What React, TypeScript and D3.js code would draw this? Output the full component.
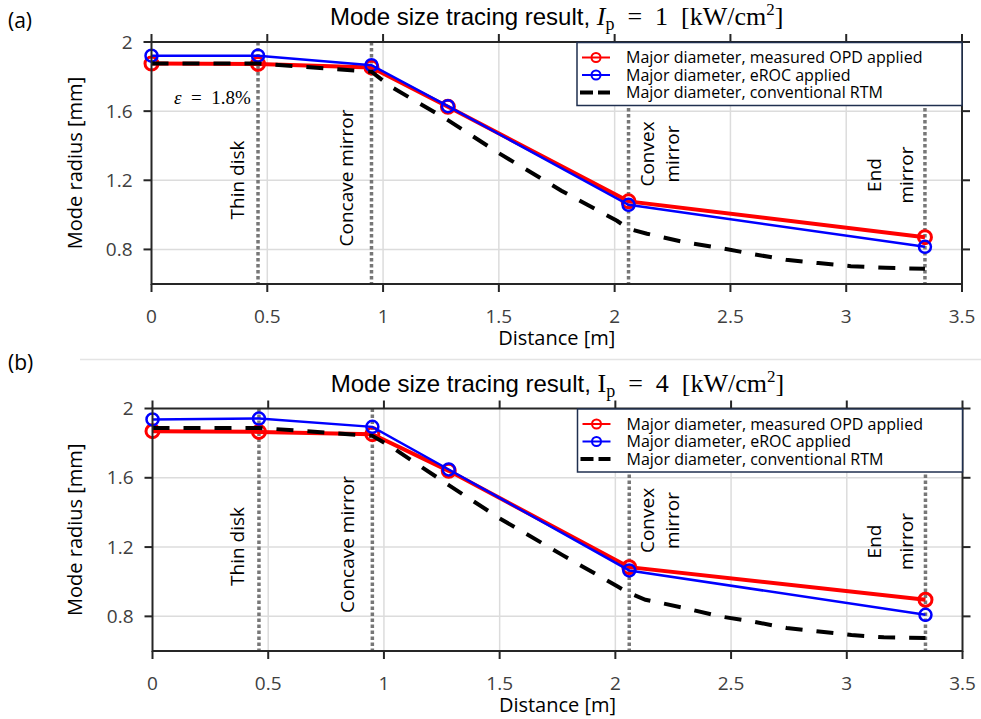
import React from 'react';
import * as d3 from 'd3';

// positions of the optical elements along the resonator [m]
const stations = [0, 0.46, 0.95, 1.28, 2.06, 3.34];

// panel (a), Ip = 1 kW/cm^2
const measuredA = [1.875, 1.873, 1.853, 1.625, 1.078, 0.871];
const erocA = [1.921, 1.921, 1.866, 1.629, 1.058, 0.815];
const rtmDistA = [0, 0.46, 0.95, 1.03, 1.28, 1.5, 1.77, 2.01, 2.06, 2.14, 2.3, 2.45, 2.59, 2.74, 2.88, 3.02, 3.17, 3.34];
const rtmA = [1.876, 1.875, 1.828, 1.745, 1.548, 1.357, 1.14, 0.966, 0.92, 0.891, 0.842, 0.81, 0.775, 0.74, 0.721, 0.703, 0.694, 0.688];

// panel (b), Ip = 4 kW/cm^2
const measuredB = [1.869, 1.865, 1.852, 1.64, 1.084, 0.896];
const erocB = [1.937, 1.942, 1.894, 1.648, 1.065, 0.809];
const rtmDistB = [0, 0.46, 0.95, 1.03, 1.28, 1.5, 1.77, 2.01, 2.06, 2.13, 2.3, 2.45, 2.59, 2.74, 2.88, 3.02, 3.16, 3.34];
const rtmB = [1.888, 1.888, 1.842, 1.78, 1.558, 1.366, 1.155, 0.972, 0.934, 0.896, 0.848, 0.8, 0.771, 0.733, 0.713, 0.692, 0.679, 0.675];

const xTicks = [0, 0.5, 1, 1.5, 2, 2.5, 3, 3.5];
const yTicks = [0.8, 1.2, 1.6, 2];
const elementDist = [0.46, 0.95, 2.06, 3.34];
const elementNames = [['Thin disk'], ['Concave mirror'], ['Convex', 'mirror'], ['End', 'mirror']];
const legendLabels = [
  'Major diameter, measured OPD applied',
  'Major diameter, eROC applied',
  'Major diameter, conventional RTM',
];

const SANS = '"Open Sans", sans-serif';
const TITLE = '"Liberation Sans", Arial, sans-serif';
const SERIF = '"Liberation Serif", "Times New Roman", serif';

type PanelProps = {
  left: number; right: number; top: number; bottom: number;
  measured: number[]; eroc: number[]; rtmX: number[]; rtmY: number[];
  tag: string; tagY: number; intensity: string; italicI: boolean; showEps: boolean;
};

function Panel(p: PanelProps) {
  const x = d3.scaleLinear().domain([0, 3.5]).range([p.left, p.right]);
  const y = d3.scaleLinear().domain([0.6, 2]).range([p.bottom, p.top]);
  const line = d3.line<[number, number]>().x(d => x(d[0])).y(d => y(d[1]));
  const red = line(stations.map((s, i) => [s, p.measured[i]]) as [number, number][]) || '';
  const blue = line(stations.map((s, i) => [s, p.eroc[i]]) as [number, number][]) || '';
  const black = line(p.rtmX.map((s, i) => [s, p.rtmY[i]]) as [number, number][]) || '';
  const cx = (p.left + p.right) / 2;
  const cy = (p.top + p.bottom) / 2;
  const lgL = p.right - 385;

  // label placement for each element line: baseline offsets from the line, centre y offset from top
  const labelPos = [
    { dx: [-14.5], cyOff: 138 },
    { dx: [-18], cyOff: 136 },
    { dx: [25, 50], cyOff: 112 },
    { dx: [-44, -12], cyOff: 133 },
  ];

  return (
    <g>
      <text x={8} y={p.tagY} fontFamily={SANS} fontSize={21} fill="#000">{p.tag}</text>
      <text x={cx} y={p.top - 17} textAnchor="middle" fontSize={24} fill="#000" style={{ whiteSpace: 'pre' }}>
        <tspan fontFamily={TITLE}>Mode size tracing result, </tspan>
        <tspan fontFamily={SERIF} fontStyle={p.italicI ? 'italic' : 'normal'} fontSize={26}>I</tspan>
        <tspan fontFamily={SERIF} fontSize={18} dy={5}>p</tspan>
        <tspan fontFamily={SERIF} fontSize={26} dy={-5}>{`  =  ${p.intensity}  [kW/cm`}</tspan>
        <tspan fontFamily={SERIF} fontSize={17} dy={-10}>2</tspan>
        <tspan fontFamily={SERIF} fontSize={26} dy={10}>]</tspan>
      </text>

      {/* grid */}
      {xTicks.slice(1, -1).map(t => (
        <line key={'gx' + t} x1={x(t)} x2={x(t)} y1={p.top} y2={p.bottom} stroke="#dcdcdc" strokeWidth={1.5} />
      ))}
      {yTicks.slice(0, -1).map(t => (
        <line key={'gy' + t} x1={p.left} x2={p.right} y1={y(t)} y2={y(t)} stroke="#dcdcdc" strokeWidth={1.5} />
      ))}

      {/* element markers */}
      {elementDist.map((d, i) => (
        <g key={'el' + i}>
          <line x1={x(d)} x2={x(d)} y1={p.top} y2={p.bottom} stroke="#777" strokeWidth={3.5} strokeDasharray="3.5,2.5" />
          {elementNames[i].map((nm, j) => (
            <text key={j} transform={`translate(${x(d) + labelPos[i].dx[j]},${p.top + labelPos[i].cyOff}) rotate(-90)`}
              textAnchor="middle" fontFamily={SANS} fontSize={19} fill="#000">{nm}</text>
          ))}
        </g>
      ))}

      {/* series */}
      <path d={red} fill="none" stroke="#ff0000" strokeWidth={4} />
      {stations.map((s, i) => (
        <circle key={'r' + i} cx={x(s)} cy={y(p.measured[i])} r={6.5} fill="none" stroke="#ff0000" strokeWidth={3} />
      ))}
      <path d={blue} fill="none" stroke="#0000ff" strokeWidth={2.5} />
      {stations.map((s, i) => (
        <circle key={'b' + i} cx={x(s)} cy={y(p.eroc[i])} r={6} fill="none" stroke="#0000ff" strokeWidth={2.5} />
      ))}
      <path d={black} fill="none" stroke="#000" strokeWidth={4} strokeDasharray="17,14" />

      {p.showEps && (
        <text x={174} y={y(1.68) + 7} fontFamily={SERIF} fontSize={19} fill="#000" style={{ whiteSpace: 'pre' }}>
          <tspan fontStyle="italic">ε</tspan>{'  =  1.8%'}
        </text>
      )}

      {/* axes box and ticks */}
      <rect x={p.left} y={p.top} width={p.right - p.left} height={p.bottom - p.top} fill="none" stroke="#262626" strokeWidth={2} />
      {xTicks.map(t => (
        <g key={'tx' + t}>
          <line x1={x(t)} x2={x(t)} y1={p.bottom} y2={p.bottom + 8} stroke="#262626" strokeWidth={2} />
          <line x1={x(t)} x2={x(t)} y1={p.top} y2={p.top - 8} stroke="#262626" strokeWidth={2} />
          <text x={x(t)} y={p.bottom + 39} textAnchor="middle" fontFamily={SANS} fontSize={19} fill="#404040">{t}</text>
        </g>
      ))}
      {yTicks.map(t => (
        <g key={'ty' + t}>
          <line x1={p.left} x2={p.left - 8} y1={y(t)} y2={y(t)} stroke="#262626" strokeWidth={2} />
          <line x1={p.right} x2={p.right + 8} y1={y(t)} y2={y(t)} stroke="#262626" strokeWidth={2} />
          <text x={p.left - 19} y={y(t)} dy="0.35em" textAnchor="end" fontFamily={SANS} fontSize={19} fill="#404040">{t}</text>
        </g>
      ))}
      <text x={cx} y={p.bottom + 61} textAnchor="middle" fontFamily={SANS} fontSize={20} fill="#000">Distance [m]</text>
      <text transform={`translate(82,${cy}) rotate(-90)`} textAnchor="middle" fontFamily={SANS} fontSize={20} fill="#000">Mode radius [mm]</text>

      {/* legend */}
      <rect x={lgL} y={p.top + 0.5} width={385} height={63} fill="#fff" stroke="#1f2f4f" strokeWidth={1.5} />
      {legendLabels.map((lb, i) => {
        const ly = p.top + [15.5, 33, 50.5][i];
        return (
          <g key={'lg' + i}>
            {i < 2 ? (
              <g>
                <line x1={lgL + 5} x2={lgL + 33} y1={ly} y2={ly} stroke={i === 0 ? '#ff0000' : '#0000ff'} strokeWidth={2} />
                <circle cx={lgL + 19} cy={ly} r={4.5} fill="none" stroke={i === 0 ? '#ff0000' : '#0000ff'} strokeWidth={2} />
              </g>
            ) : (
              <line x1={lgL + 3} x2={lgL + 33} y1={ly} y2={ly} stroke="#000" strokeWidth={4} strokeDasharray="13,5" />
            )}
            <text x={lgL + 49} y={ly} dy="0.35em" fontFamily={SANS} fontSize={16} fill="#000">{lb}</text>
          </g>
        );
      })}
    </g>
  );
}

export default function App() {
  return (
    <svg width={981} height={719} viewBox="0 0 981 719" style={{ position: 'absolute', left: 0, top: 0, background: '#fff' }}>
      <rect width={981} height={719} fill="#fff" />
      <line x1={80} x2={981} y1={359.5} y2={359.5} stroke="#e4e4e4" strokeWidth={1.5} />
      <Panel left={151.5} right={962} top={42} bottom={284}
        measured={measuredA} eroc={erocA} rtmX={rtmDistA} rtmY={rtmA}
        tag="(a)" tagY={28} intensity="1" italicI={true} showEps={true} />
      <Panel left={152.5} right={962.5} top={408.5} bottom={651}
        measured={measuredB} eroc={erocB} rtmX={rtmDistB} rtmY={rtmB}
        tag="(b)" tagY={370} intensity="4" italicI={false} showEps={false} />
    </svg>
  );
}
